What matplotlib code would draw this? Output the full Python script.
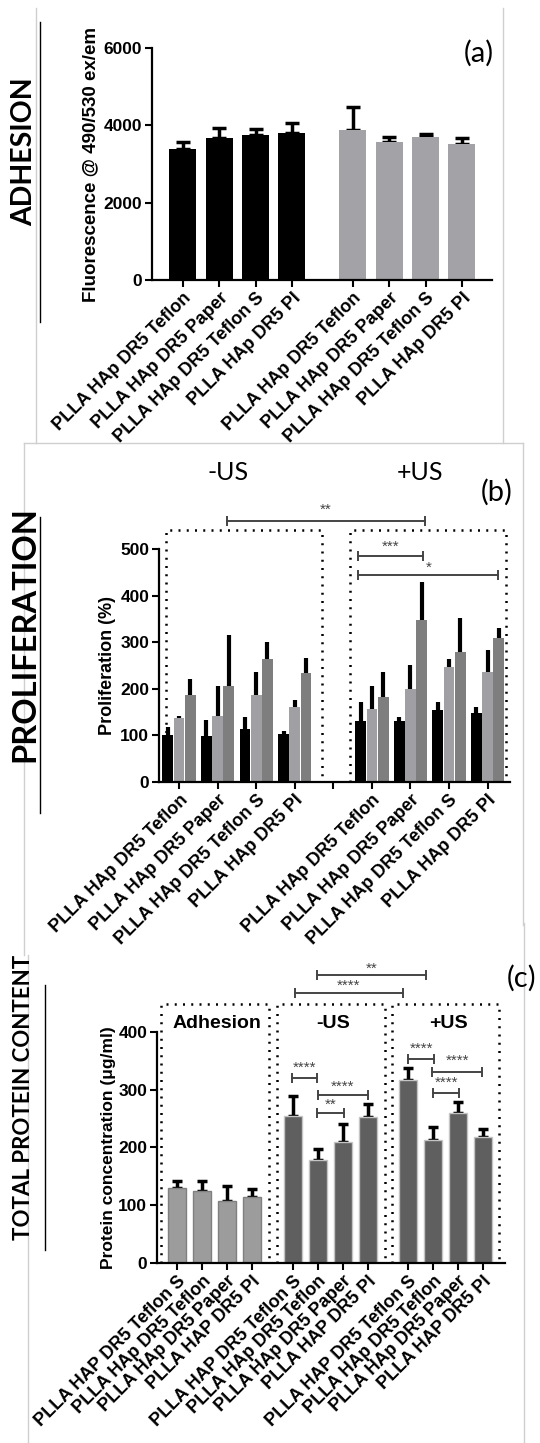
import matplotlib
matplotlib.use("Agg")
import matplotlib.pyplot as plt
from matplotlib.lines import Line2D

plt.rcParams['font.family'] = ['Liberation Sans', 'DejaVu Sans']

# ---- data -------------------------------------------------------------
a_labels = ["PLLA HAp DR5 Teflon", "PLLA HAp DR5 Paper", "PLLA HAp DR5 Teflon S", "PLLA HAp DR5 PI"]
a_black = [3390, 3680, 3760, 3790]
a_black_err = [190, 260, 140, 280]
a_gray = [3880, 3560, 3700, 3520]
a_gray_err = [600, 150, 70, 140]

b_labels = ["PLLA HAp DR5 Teflon", "PLLA HAp DR5 Paper", "PLLA HAp DR5 Teflon S", "PLLA HAp DR5 PI"]
b_black_minus = [101, 98, 114, 104]
b_black_minus_err = [18, 36, 25, 5]
b_light_minus = [137, 142, 186, 160]
b_light_minus_err = [4, 63, 51, 17]
b_dark_minus = [186, 207, 265, 233]
b_dark_minus_err = [35, 108, 35, 33]
b_black_plus = [131, 131, 154, 147]
b_black_plus_err = [40, 8, 17, 15]
b_light_plus = [157, 200, 247, 237]
b_light_plus_err = [50, 52, 17, 47]
b_dark_plus = [182, 347, 280, 309]
b_dark_plus_err = [54, 82, 71, 21]

c_labels = ["PLLA HAP DR5 Teflon S", "PLLA HAp DR5 Teflon", "PLLA HAp DR5 Paper", "PLLA HAP DR5 PI"]
c_adh = [130, 125, 108, 114]
c_adh_err = [11, 16, 26, 14]
c_minus = [255, 178, 210, 253]
c_minus_err = [34, 20, 30, 22]
c_plus = [317, 212, 260, 218]
c_plus_err = [20, 24, 19, 14]

W, H = 540, 1443
fig = plt.figure(figsize=(W / 100, H / 100), dpi=100)
fig.patch.set_facecolor('white')


def px_axes(left, right, bottom, top):
    return fig.add_axes([left / W, 1 - bottom / H, (right - left) / W, (bottom - top) / H])


def style_axes(ax):
    for s in ['top', 'right']:
        ax.spines[s].set_visible(False)
    for s in ['left', 'bottom']:
        ax.spines[s].set_linewidth(1.6)
    ax.tick_params(width=1.5, length=5, labelsize=12.5, pad=2)
    for lab in ax.get_yticklabels():
        lab.set_fontweight('bold')


def xlabels(ax, pos, labels, fs=13):
    ax.set_xticks(pos)
    ax.set_xticklabels(labels, rotation=45, ha='right', rotation_mode='anchor',
                       fontsize=fs, fontweight='bold')


def bars(ax, x, vals, errs, width, color, edge=None, capsize=0, elw=2.5):
    ax.bar(x, vals, width=width, color=color, edgecolor=edge if edge else color,
           linewidth=1 if edge else 0, zorder=2)
    ax.errorbar(x, vals, yerr=[[0] * len(vals), errs], fmt='none', ecolor='black',
                elinewidth=elw, capsize=capsize, capthick=elw, zorder=1)


def bracket(ax, x1, x2, y, text, ty, fs=11, color='#444444'):
    ax.plot([x1, x2], [y, y], color=color, lw=1.4, marker='|', markersize=7,
            markeredgewidth=1.4, clip_on=False)
    ax.text((x1 + x2) / 2, ty, text, ha='center', va='center', fontsize=fs,
            color=color, clip_on=False)


def dotted_box(ax, x0, x1, top):
    ax.plot([x0, x0, x1, x1], [0, top, top, 0], color='black', lw=1.8,
            linestyle=(0, (0.8, 2.5)), clip_on=False, zorder=3)


# ---- panel (a) ---------------------------------------------------------
ax = px_axes(152, 492, 280, 48)
pos_black = [0, 1, 2, 3]
pos_gray = [4.68, 5.68, 6.68, 7.68]
bars(ax, pos_black, a_black, a_black_err, 0.74, 'black', capsize=5, elw=2.5)
bars(ax, pos_gray, a_gray, a_gray_err, 0.74, '#a3a3a7', capsize=5, elw=2.5)
ax.set_xlim(-0.85, 8.51)
ax.set_ylim(0, 6000)
ax.set_yticks([0, 2000, 4000, 6000])
style_axes(ax)
xlabels(ax, pos_black + pos_gray, a_labels + a_labels)
ax.set_ylabel("Fluorescence @ 490/530 ex/em", fontsize=13.5, fontweight='bold', labelpad=3)

# ---- panel (b) ---------------------------------------------------------
ax = px_axes(159, 510, 782, 549)
g_minus = [0, 1, 2, 3]
g_plus = [5, 6, 7, 8]
off, bw = 0.29, 0.28
bars(ax, [g - off for g in g_minus], b_black_minus, b_black_minus_err, bw, 'black', elw=3)
bars(ax, g_minus, b_light_minus, b_light_minus_err, bw, '#a0a0a4', elw=3)
bars(ax, [g + off for g in g_minus], b_dark_minus, b_dark_minus_err, bw, '#7e7e7e', elw=3)
bars(ax, [g - off for g in g_plus], b_black_plus, b_black_plus_err, bw, 'black', elw=3)
bars(ax, g_plus, b_light_plus, b_light_plus_err, bw, '#a0a0a4', elw=3)
bars(ax, [g + off for g in g_plus], b_dark_plus, b_dark_plus_err, bw, '#7e7e7e', elw=3)
ax.set_xlim(-0.52, 8.58)
ax.set_ylim(0, 500)
ax.set_yticks([0, 100, 200, 300, 400, 500])
style_axes(ax)
xlabels(ax, g_minus + [4] + g_plus, b_labels + [""] + b_labels)
ax.set_ylabel("Proliferation (%)", fontsize=13, fontweight='bold', labelpad=3)
dotted_box(ax, -0.34, 3.7, 541)
dotted_box(ax, 4.43, 8.47, 541)
bracket(ax, 1.24, 6.37, 561, "**", 584)
bracket(ax, 4.65, 6.33, 485, "***", 504)
bracket(ax, 4.65, 8.27, 444, "*", 460)

# ---- panel (c) ---------------------------------------------------------
ax = px_axes(157, 505, 1263, 1031.7)
p_adh = [0, 1, 2, 3]
p_minus = [4.62, 5.62, 6.62, 7.62]
p_plus = [9.24, 10.24, 11.24, 12.24]
bars(ax, p_adh, c_adh, c_adh_err, 0.72, '#9c9c9c', edge='#808080', capsize=3.5, elw=2.5)
bars(ax, p_minus, c_minus, c_minus_err, 0.72, '#5f5f5f', edge='#c4c4c4', capsize=3.5, elw=2.5)
bars(ax, p_plus, c_plus, c_plus_err, 0.72, '#5f5f5f', edge='#c4c4c4', capsize=3.5, elw=2.5)
ax.set_xlim(-0.8, 13.12)
ax.set_ylim(0, 400)
ax.set_yticks([0, 100, 200, 300, 400])
style_axes(ax)
xlabels(ax, p_adh + p_minus + p_plus, c_labels * 3)
ax.set_ylabel("Protein concentration (μg/ml)", fontsize=12.5, fontweight='bold', labelpad=2)
dotted_box(ax, -0.64, 3.68, 448)
dotted_box(ax, 4.0, 8.32, 448)
dotted_box(ax, 8.6, 12.88, 448)
ax.text(1.6, 415, "Adhesion", ha='center', va='center', fontsize=14, fontweight='bold')
ax.text(6.24, 415, "-US", ha='center', va='center', fontsize=14, fontweight='bold')
ax.text(10.84, 415, "+US", ha='center', va='center', fontsize=14, fontweight='bold')
bracket(ax, 5.6, 9.95, 498, "**", 509)
bracket(ax, 4.72, 9.04, 467, "****", 479)
bracket(ax, 4.59, 5.59, 320, "****", 338)
bracket(ax, 5.65, 7.62, 291, "****", 305)
bracket(ax, 5.59, 6.68, 260, "**", 273)
bracket(ax, 9.25, 10.28, 353, "****", 371)
bracket(ax, 10.21, 12.21, 331, "****", 349)
bracket(ax, 10.25, 11.29, 294, "****", 311)

# ---- figure decorations ----------------------------------------------
def fline(x0, y0, x1, y1, color='black', lw=1.0):
    fig.add_artist(Line2D([x0 / W, x1 / W], [1 - y0 / H, 1 - y1 / H], color=color, lw=lw))


# faint panel borders
gray = '#cfcfcf'
fline(36, 8, 36, 443, gray)
fline(503, 8, 503, 443, gray)
fline(24, 443, 523, 443, gray)
fline(24, 443, 24, 955, gray)
fline(523, 443, 523, 925, gray)
fline(28, 955, 28, 1443, gray)
fline(524, 923, 524, 1443, gray)

# side titles with rules
fline(40, 22, 40, 322)
fline(40, 517, 40, 813)
fline(45, 985, 45, 1250)
side = dict(rotation=90, ha='center', va='center', fontweight='bold',
            family=['Lato', 'DejaVu Sans'])
fig.text(24 / W, 1 - 152 / H, "ADHESION", fontsize=20.5, **side)
fig.text(25 / W, 1 - 634 / H, "PROLIFERATION", fontsize=23.5, **side)
fig.text(24 / W, 1 - 1097 / H, "TOTAL PROTEIN CONTENT", fontsize=16, **side)

# panel letters and group headings
letter = dict(ha='center', va='center', fontsize=21, family=['Lato', 'DejaVu Sans'])
fig.text(479 / W, 1 - 53 / H, "(a)", **letter)
fig.text(497 / W, 1 - 492 / H, "(b)", **letter)
fig.text(522 / W, 1 - 978 / H, "(c)", **letter)
fig.text(228 / W, 1 - 472 / H, "-US", ha='center', va='center', fontsize=18,
         family=['Lato', 'DejaVu Sans'])
fig.text(420 / W, 1 - 472 / H, "+US", ha='center', va='center', fontsize=18,
         family=['Lato', 'DejaVu Sans'])

fig.savefig("out.png", dpi=100)
